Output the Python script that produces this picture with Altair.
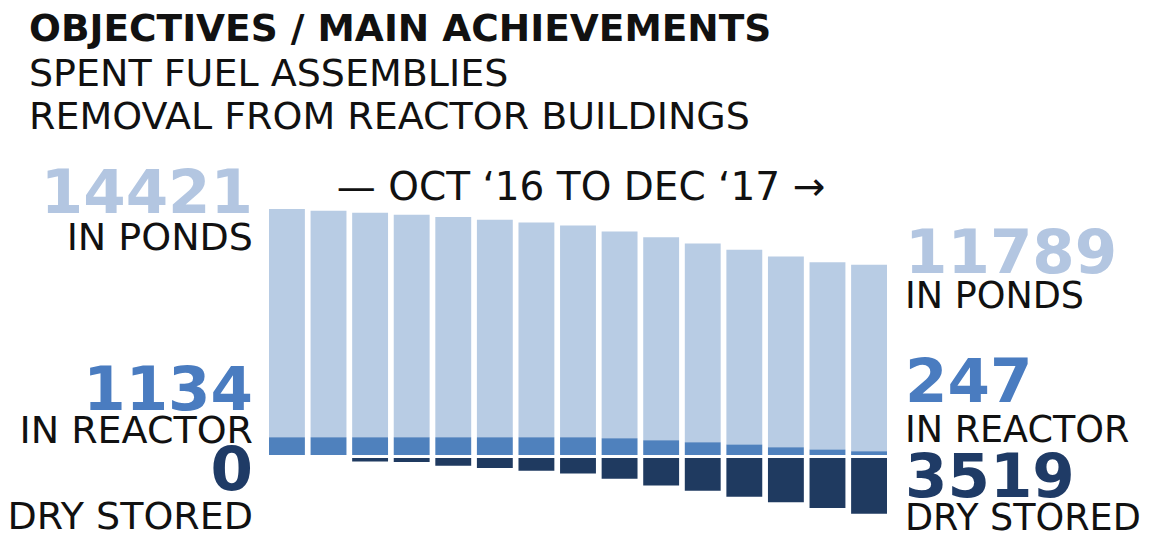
import altair as alt
import pandas as pd

# ---- data ----
months = ["Oct '16", "Nov '16", "Dec '16", "Jan '17", "Feb '17", "Mar '17", "Apr '17",
          "May '17", "Jun '17", "Jul '17", "Aug '17", "Sep '17", "Oct '17", "Nov '17", "Dec '17"]
ponds = [14421, 14317, 14190, 14066, 13922, 13753, 13565, 13390, 13083, 12833, 12564, 12313, 12057, 11850, 11789]
reactor = [1134, 1134, 1134, 1134, 1134, 1134, 1134, 1134, 1060, 940, 815, 670, 500, 350, 247]
dry = [0, 0, 215, 250, 485, 630, 800, 970, 1300, 1730, 2060, 2440, 2800, 3150, 3519]

title_lines = ["OBJECTIVES / MAIN ACHIEVEMENTS", "SPENT FUEL ASSEMBLIES", "REMOVAL FROM REACTOR BUILDINGS"]
period_text = "\u2014 OCT \u201816 TO DEC \u201817 \u2192"
label_ponds = "IN PONDS"
label_reactor = "IN REACTOR"
label_dry = "DRY STORED"

C_PONDS = "#b8cce4"
C_REACTOR = "#4f81bd"
C_DRY = "#1f3a60"
C_PONDS_TXT = "#b3c6e1"
C_REACTOR_TXT = "#4a7cc0"
C_DRY_TXT = "#1f3b66"
FONT = "DejaVu Sans"

df = pd.DataFrame({"month": months, "ponds": ponds, "reactor": reactor, "dry": dry})

x_enc = alt.X("month:N", sort=months,
              scale=alt.Scale(paddingInner=0.137, paddingOuter=0), axis=None)
y_scale = alt.Scale(domain=[-3600, 15560], nice=False, zero=False)

base = alt.Chart(df).transform_calculate(
    pond_top="datum.reactor + datum.ponds",
    neg_dry="-datum.dry",
)

ponds_bar = base.mark_bar(color=C_PONDS).encode(
    x=x_enc,
    y=alt.Y("pond_top:Q", scale=y_scale, axis=None),
    y2="reactor:Q",
)
reactor_bar = base.mark_bar(color=C_REACTOR).encode(
    x=x_enc,
    y=alt.Y("reactor:Q", scale=y_scale, axis=None),
    y2=alt.datum(0),
)
dry_bar = base.mark_bar(color=C_DRY, yOffset=3, y2Offset=3).encode(
    x=x_enc,
    y=alt.Y("neg_dry:Q", scale=y_scale, axis=None),
    y2=alt.datum(0),
)


def text_layer(txt, x, y, size, color="#111111", bold=False, align="left"):
    return alt.Chart(pd.DataFrame({"t": [txt]})).mark_text(
        font=FONT,
        fontSize=size,
        fontWeight="bold" if bold else "normal",
        color=color,
        align=align,
        baseline="alphabetic",
    ).encode(text="t:N", x=alt.value(x), y=alt.value(y))


texts = [
    text_layer(title_lines[0], -240, -168, 37.5, bold=True),
    text_layer(title_lines[1], -240, -123, 38),
    text_layer(title_lines[2], -240, -80, 38),
    text_layer(period_text, 312, -9, 39, align="center"),
    # left side
    text_layer(str(ponds[0]), -16, 4, 61, color=C_PONDS_TXT, bold=True, align="right"),
    text_layer(label_ponds, -16, 41, 38, align="right"),
    text_layer(str(reactor[0]), -16, 201, 61, color=C_REACTOR_TXT, bold=True, align="right"),
    text_layer(label_reactor, -16, 234, 38, align="right"),
    text_layer(str(dry[0]), -16, 281, 61, color=C_DRY_TXT, bold=True, align="right"),
    text_layer(label_dry, -16, 320, 38, align="right"),
    # right side
    text_layer(str(ponds[-1]), 636, 64, 61, color=C_PONDS_TXT, bold=True),
    text_layer(label_ponds, 636, 99, 36.5),
    text_layer(str(reactor[-1]), 636, 193, 61, color=C_REACTOR_TXT, bold=True),
    text_layer(label_reactor, 636, 233, 36.5),
    text_layer(str(dry[-1]), 636, 288, 61, color=C_DRY_TXT, bold=True),
    text_layer(label_dry, 636, 321, 36.5),
]

chart = alt.layer(ponds_bar, reactor_bar, dry_bar, *texts).properties(
    width=618,
    height=303,
    padding={"left": 261, "top": 201, "right": 256, "bottom": 21},
    autosize=alt.AutoSizeParams(type="none"),
    background="white",
).configure_view(stroke=None)

chart.save("out.html", embed_options={"renderer": "svg", "actions": False})
